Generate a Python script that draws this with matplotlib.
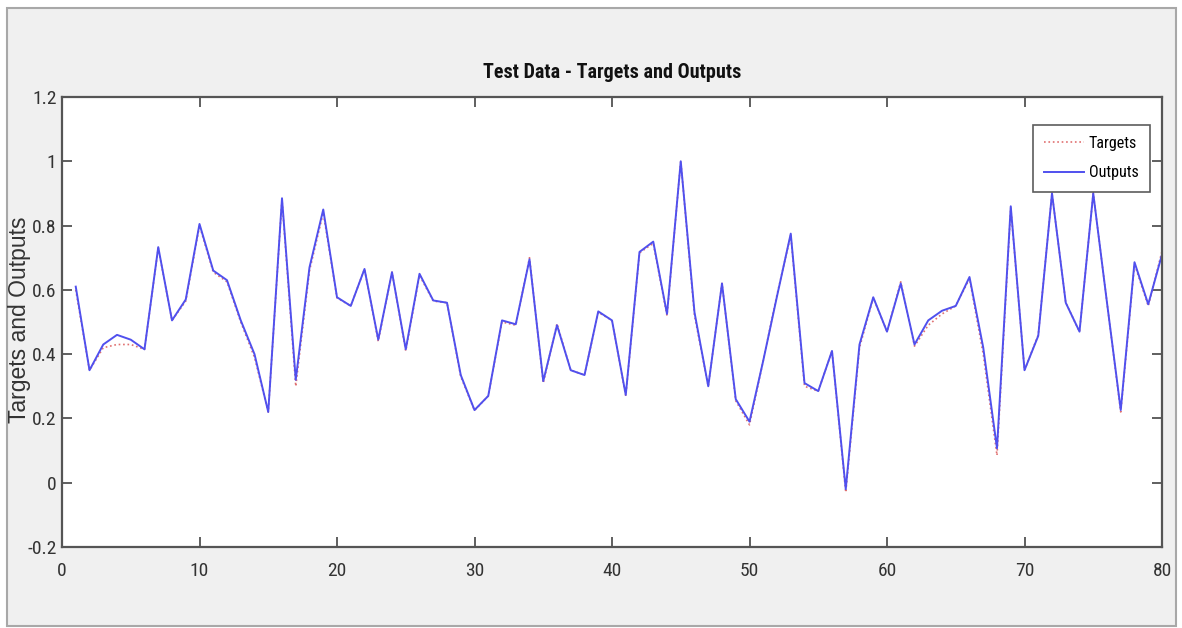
import matplotlib
matplotlib.use("Agg")
import matplotlib.pyplot as plt
from matplotlib.patches import Rectangle
from matplotlib.ticker import FuncFormatter

sample = list(range(1, 81))
outputs = [0.61, 0.35, 0.43, 0.46, 0.445, 0.415, 0.733, 0.505, 0.57, 0.805,
           0.66, 0.63, 0.505, 0.40, 0.22, 0.885, 0.32, 0.67, 0.85, 0.577,
           0.55, 0.665, 0.445, 0.655, 0.415, 0.65, 0.567, 0.56, 0.335, 0.226,
           0.27, 0.505, 0.493, 0.695, 0.316, 0.49, 0.35, 0.335, 0.533, 0.505,
           0.273, 0.718, 0.75, 0.525, 1.0, 0.53, 0.30, 0.62, 0.26, 0.19,
           0.38, 0.58, 0.775, 0.31, 0.285, 0.41, -0.02, 0.43, 0.577, 0.47,
           0.62, 0.43, 0.505, 0.535, 0.55, 0.64, 0.42, 0.107, 0.86, 0.35,
           0.457, 0.90, 0.56, 0.47, 0.90, 0.56, 0.226, 0.686, 0.555, 0.71]
targets = [0.60, 0.35, 0.42, 0.43, 0.43, 0.415, 0.73, 0.505, 0.565, 0.80,
           0.655, 0.625, 0.50, 0.39, 0.22, 0.88, 0.30, 0.66, 0.84, 0.575,
           0.55, 0.665, 0.44, 0.655, 0.41, 0.645, 0.565, 0.56, 0.33, 0.225,
           0.27, 0.50, 0.49, 0.70, 0.31, 0.495, 0.35, 0.335, 0.53, 0.505,
           0.27, 0.715, 0.745, 0.52, 1.0, 0.52, 0.30, 0.62, 0.255, 0.18,
           0.38, 0.585, 0.77, 0.30, 0.285, 0.41, -0.03, 0.42, 0.575, 0.47,
           0.625, 0.425, 0.49, 0.525, 0.55, 0.635, 0.40, 0.085, 0.855, 0.35,
           0.46, 0.90, 0.56, 0.47, 0.90, 0.56, 0.22, 0.68, 0.55, 0.72]
xticks = [0, 10, 20, 30, 40, 50, 60, 70, 80]
yticks = [-0.2, 0, 0.2, 0.4, 0.6, 0.8, 1.0, 1.2]

narrow = ['Roboto Condensed', 'Liberation Sans Narrow', 'Roboto', 'DejaVu Sans']
W, H = 1182, 628
fig = plt.figure(figsize=(W / 100, H / 100), dpi=100, facecolor='white')
bg = Rectangle((7 / W, 2 / H), (1176 - 7) / W, (620 - 2) / H,
               transform=fig.transFigure, facecolor='#f0f0f0',
               edgecolor='#a8a8a8', linewidth=1.5, zorder=-10)
fig.patches.append(bg)

ax = fig.add_axes([62 / W, 1 - 547 / H, (1162 - 62) / W, (547 - 97) / H], zorder=5)
ax.set_facecolor('white')
ax.plot(sample, targets, linestyle=':', color='#e07070', linewidth=1.2, label='Targets')
ax.plot(sample, outputs, linestyle='-', color='#5050ee', linewidth=1.4, label='Outputs')

ax.set_xlim(0, 80)
ax.set_ylim(-0.2, 1.2)
ax.set_xticks(xticks)
ax.set_yticks(yticks)
ax.yaxis.set_major_formatter(FuncFormatter(lambda v, p: ('%g' % round(v, 2))))
ax.tick_params(direction='in', top=True, right=True, length=7, width=1.2,
               color='#444444', labelsize=14, labelcolor='#333333')
ax.tick_params(axis='x', pad=11)
ax.tick_params(axis='y', pad=4)
for lab in ax.get_xticklabels() + ax.get_yticklabels():
    lab.set_family(narrow)
for s in ax.spines.values():
    s.set_color('#555555')
    s.set_linewidth(1.6)

ax.set_title('Test Data - Targets and Outputs', fontsize=14.5, fontweight='bold',
             family=narrow, color='#111111', pad=14)
ax.set_ylabel('Targets and Outputs', fontsize=16.5, family=['Liberation Sans', 'DejaVu Sans'],
              color='#333333')
ax.yaxis.set_label_coords((31 - 62) / (1162 - 62), 0.505)

leg = ax.legend(loc='upper right', bbox_to_anchor=(0.989, 0.938), borderaxespad=0,
                prop={'family': narrow, 'size': 11.5}, frameon=True, fancybox=False,
                handlelength=2.5, handletextpad=0.3, borderpad=0.7, labelspacing=0.9)
leg.get_frame().set_edgecolor('#333333')
leg.get_frame().set_linewidth(1.2)

fig.savefig('out.png', dpi=100, facecolor=fig.get_facecolor())
